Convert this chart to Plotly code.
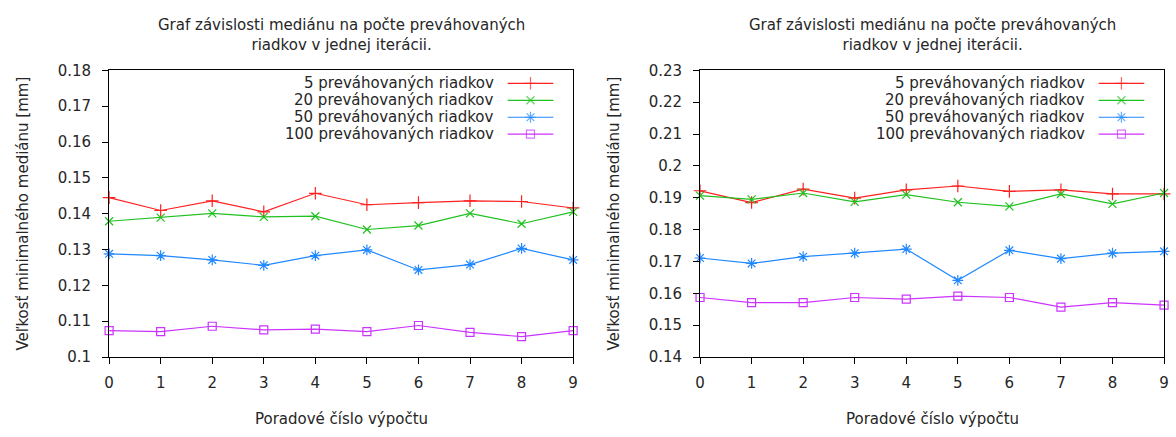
import plotly.graph_objects as go

# Poradové číslo výpočtu (x-axis)
runs = [0, 1, 2, 3, 4, 5, 6, 7, 8, 9]

series_names = [
    "5 preváhovaných riadkov",
    "20 preváhovaných riadkov",
    "50 preváhovaných riadkov",
    "100 preváhovaných riadkov",
]

# Left chart
left_5 = [0.1445, 0.1409, 0.1436, 0.1405, 0.1457, 0.1425, 0.1431, 0.1436, 0.1434, 0.1416]
left_20 = [0.1379, 0.1389, 0.1401, 0.1391, 0.1393, 0.1356, 0.1367, 0.1401, 0.1372, 0.1405]
left_50 = [0.1288, 0.1283, 0.1271, 0.1256, 0.1283, 0.1299, 0.1243, 0.1258, 0.1303, 0.1271]
left_100 = [0.1074, 0.1071, 0.1086, 0.1076, 0.1078, 0.1071, 0.1088, 0.1069, 0.1057, 0.1074]

# Right chart
right_5 = [0.1922, 0.1885, 0.1927, 0.1899, 0.1925, 0.1937, 0.1920, 0.1925, 0.1912, 0.1912]
right_20 = [0.1907, 0.1895, 0.1915, 0.1887, 0.1910, 0.1886, 0.1873, 0.1912, 0.1881, 0.1915]
right_50 = [0.1711, 0.1694, 0.1715, 0.1726, 0.1739, 0.1641, 0.1735, 0.1709, 0.1726, 0.1732]
right_100 = [0.1587, 0.1571, 0.1571, 0.1587, 0.1582, 0.1591, 0.1587, 0.1557, 0.1571, 0.1563]

title_text = "Graf závislosti mediánu na počte preváhovaných<br>riadkov v jednej iterácii."
x_title = "Poradové číslo výpočtu"
y_title = "Veľkosť minimalného mediánu [mm]"

colors = ["#ff2020", "#20c020", "#2088ff", "#cc33ff"]
symbols = ["cross-thin-open", "x-thin-open", "asterisk-open", "square-open"]
sizes = [9, 8, 9, 8]

W, H = 1176, 437
FONT = "DejaVu Sans"
FS = 15
TXT = "#262626"

# pixel geometry of the two plot boxes
box_top, box_bottom = 64, 363
boxes = [(105, 573), (701, 1169)]

fig = go.Figure()


def px_x(p):
    return p / W


def px_y(p):
    return 1 - p / H


def add_series(values_list, xa, ya):
    for vals, col, sym, sz in zip(values_list, colors, symbols, sizes):
        fig.add_trace(go.Scatter(
            x=runs, y=vals, mode="lines+markers",
            line=dict(color=col, width=1.2),
            marker=dict(symbol=sym, size=sz, color=col,
                        line=dict(color=col, width=1.2)),
            cliponaxis=False, showlegend=False,
            xaxis=xa, yaxis=ya, hoverinfo="x+y",
        ))


add_series([left_5, left_20, left_50, left_100], "x", "y")
add_series([right_5, right_20, right_50, right_100], "x2", "y2")

# legend keys (text on the left, line sample with symbol on the right)
annotations = []
for (bx0, bx1) in boxes:
    text_end = bx1 - 78
    s0, s1 = bx1 - 66, bx1 - 20
    for i, (name, col, sym, sz) in enumerate(zip(series_names, colors, symbols, sizes)):
        yrow = 77.5 + 17.7 * i
        annotations.append(dict(
            x=px_x(text_end), y=px_y(yrow), xref="paper", yref="paper",
            text=name, showarrow=False, xanchor="right", yanchor="middle",
            font=dict(family=FONT, size=FS, color=TXT),
        ))
        fig.add_trace(go.Scatter(
            x=[s0, (s0 + s1) / 2, s1], y=[yrow, yrow, yrow],
            mode="lines+markers",
            line=dict(color=col, width=1.2),
            marker=dict(symbol=sym, size=[0, sz, 0], color=col,
                        line=dict(color=col, width=1.2)),
            showlegend=False, hoverinfo="skip",
            xaxis="x3", yaxis="y3", cliponaxis=False,
        ))

    cx = (bx0 + bx1) / 2
    annotations.append(dict(
        x=px_x(cx), y=px_y(27), xref="paper", yref="paper",
        text=title_text, showarrow=False, xanchor="center", yanchor="middle",
        font=dict(family=FONT, size=FS, color=TXT),
    ))
    annotations.append(dict(
        x=px_x(cx), y=px_y(428), xref="paper", yref="paper",
        text=x_title, showarrow=False, xanchor="center", yanchor="middle",
        font=dict(family=FONT, size=FS, color=TXT),
    ))
    annotations.append(dict(
        x=px_x(bx0 - 87), y=px_y((box_top + box_bottom) / 2),
        xref="paper", yref="paper",
        text=y_title, showarrow=False, textangle=-90,
        xanchor="center", yanchor="middle",
        font=dict(family=FONT, size=FS, color=TXT),
    ))

axis_common = dict(
    showline=True, linecolor="black", linewidth=1, mirror=True,
    ticks="outside", ticklen=6, tickcolor="black", tickwidth=1,
    showgrid=False, zeroline=False,
    tickfont=dict(family=FONT, size=FS, color=TXT),
)

ydom = [px_y(box_bottom), px_y(box_top)]

fig.update_layout(
    width=W, height=H,
    margin=dict(l=0, r=0, t=0, b=0),
    paper_bgcolor="white", plot_bgcolor="rgba(0,0,0,0)",
    showlegend=False,
    xaxis=dict(domain=[px_x(boxes[0][0]), px_x(boxes[0][1])], range=[0, 9],
               dtick=1, anchor="y", ticklabelstandoff=6, **axis_common),
    yaxis=dict(domain=ydom, range=[0.1, 0.18], dtick=0.01, anchor="x",
               ticklabelstandoff=8, **axis_common),
    xaxis2=dict(domain=[px_x(boxes[1][0]), px_x(boxes[1][1])], range=[0, 9],
                dtick=1, anchor="y2", ticklabelstandoff=6, **axis_common),
    yaxis2=dict(domain=ydom, range=[0.14, 0.23], dtick=0.01, anchor="x2",
                ticklabelstandoff=8, **axis_common),
    xaxis3=dict(domain=[0, 1], range=[0, W], visible=False, anchor="y3",
                fixedrange=True),
    yaxis3=dict(domain=[0, 1], range=[H, 0], visible=False, anchor="x3",
                fixedrange=True),
    annotations=annotations,
)

fig.write_html("out.html")
